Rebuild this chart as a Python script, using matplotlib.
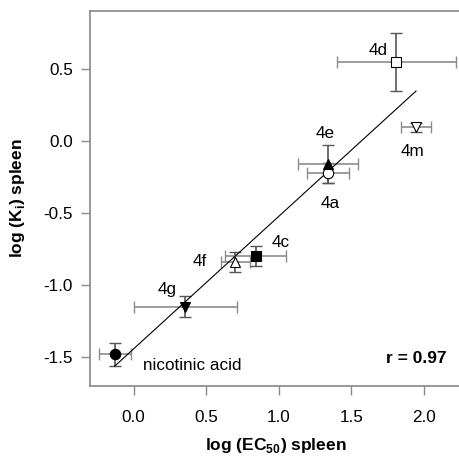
import numpy as np
import matplotlib
matplotlib.use('Agg')
import matplotlib.pyplot as plt

plt.rcParams['font.family'] = ['Liberation Sans', 'DejaVu Sans']
plt.rcParams['mathtext.fontset'] = 'custom'
plt.rcParams['mathtext.rm'] = 'Liberation Sans'
plt.rcParams['mathtext.bf'] = 'Liberation Sans:bold'

# compounds: log(EC50) spleen vs log(Ki) spleen
names = ['nicotinic acid', '4g', '4f', '4c', '4a', '4e', '4d', '4m']
log_ec50 = [-0.13, 0.355, 0.70, 0.84, 1.34, 1.34, 1.81, 1.945]
log_ki = [-1.48, -1.15, -0.84, -0.80, -0.22, -0.16, 0.55, 0.095]
ec50_err = [0.11, 0.355, 0.10, 0.21, 0.145, 0.205, 0.41, 0.10]
ki_err = [0.08, 0.07, 0.07, 0.07, 0.07, 0.13, 0.20, 0.03]
markers = ['o', 'v', '^', 's', 'o', '^', 's', 'v']
filled = [True, True, False, True, False, True, False, False]
# label offsets in pixels from the point
label_dx = [78, -18, -35, 25, 2, -3, -18, -4]
label_dy = [-11, 17, 0, 14, -31, 31, 11, -24]

fig = plt.figure(figsize=(4.59, 4.57), dpi=100)
ax = fig.add_axes([0.196, 0.156, 0.81, 0.82])

# regression line over the data range
slope, icpt = np.polyfit(log_ec50, log_ki, 1)
xs = np.array([min(log_ec50), max(log_ec50)])
ax.plot(xs, slope * xs + icpt, color='black', lw=0.8, zorder=2)

for i in range(len(names)):
    ax.errorbar(log_ec50[i], log_ki[i], xerr=ec50_err[i], fmt='none',
                ecolor='#8c8c8c', elinewidth=1.2, capsize=4, capthick=1.0, zorder=1)
    ax.errorbar(log_ec50[i], log_ki[i], yerr=ki_err[i], fmt='none',
                ecolor='#555555', elinewidth=1.2, capsize=4, capthick=1.0, zorder=1)
    ax.plot(log_ec50[i], log_ki[i], marker=markers[i], ms=7.5, ls='none',
            mfc='black' if filled[i] else 'white', mec='black', mew=0.8, zorder=3)
    ax.annotate(names[i], (log_ec50[i], log_ki[i]), xytext=(label_dx[i], label_dy[i]),
                textcoords='offset pixels', ha='center', va='center', fontsize=12.3)

ax.text(0.959, 0.073, 'r = 0.97', transform=ax.transAxes, ha='right', va='center',
        fontsize=12.5, fontweight='bold')

ax.set_xlim(-0.30, 2.26)
ax.set_ylim(-1.70, 0.903)
ax.set_xticks([0.0, 0.5, 1.0, 1.5, 2.0])
ax.set_yticks([-1.5, -1.0, -0.5, 0.0, 0.5])
ax.xaxis.set_major_formatter(matplotlib.ticker.FormatStrFormatter('%.1f'))
ax.yaxis.set_major_formatter(matplotlib.ticker.FormatStrFormatter('%.1f'))
ax.tick_params(direction='out', length=6.2, width=1, color='#888888', labelsize=12.3, pad=6)
ax.tick_params(axis='x', pad=11)

ax.spines['right'].set_visible(False)
for s in ['left', 'top', 'bottom']:
    ax.spines[s].set_color('#888888')
    ax.spines[s].set_linewidth(1.2)

ax.set_xlabel(r'log (EC$_{\mathbf{50}}$) spleen', fontsize=12.5, fontweight='bold', labelpad=8)
ax.set_ylabel(r'log (K$_{\mathbf{i}}$) spleen', fontsize=12.5, fontweight='bold', labelpad=12)

fig.savefig('out.png', dpi=100)
